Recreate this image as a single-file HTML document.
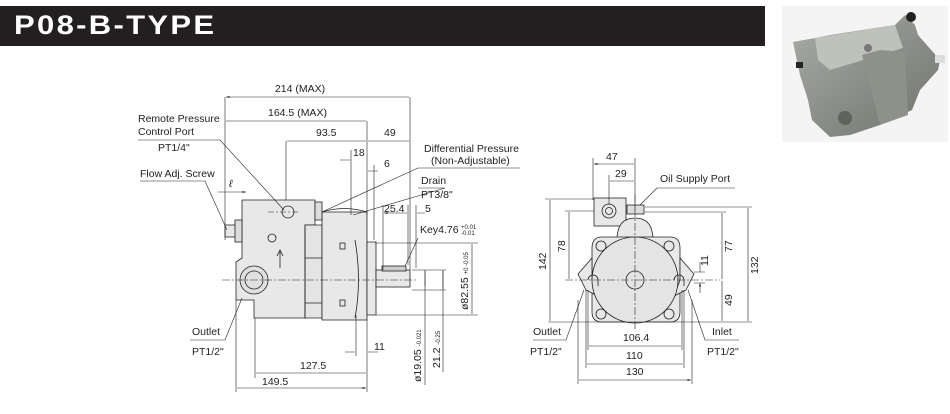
<!DOCTYPE html>
<html><head><meta charset="utf-8"><style>
body{margin:0;width:950px;height:414px;background:#fff;overflow:hidden;position:relative;font-family:"Liberation Sans",sans-serif}
.hdr{position:absolute;left:0;top:6px;width:765px;height:40px;background:#231f20}
.hdr span{position:absolute;left:14px;top:4px;color:#fff;font-weight:bold;font-size:27px;letter-spacing:2px;transform:scaleX(1.15);transform-origin:left}
svg{position:absolute;left:0;top:0}
text{font-family:"Liberation Sans",sans-serif;font-size:10.5px;fill:#222}
</style></head><body>
<div class="hdr"><span>P08-B-TYPE</span></div>
<svg width="950" height="414" viewBox="0 0 950 414">
<defs><marker id="a" viewBox="0 0 10 10" refX="10" refY="5" markerWidth="6" markerHeight="6" orient="auto-start-reverse"><path d="M0,2L10,5L0,8z" fill="#222"/></marker>
<linearGradient id="ph" x1="0" y1="0" x2="1" y2="1"><stop offset="0" stop-color="#a9aca6"/><stop offset="1" stop-color="#6f736c"/></linearGradient></defs>
<rect x="782" y="6" width="166" height="136" fill="#f4f4f4"/>
<path d="M793,42 L815,38 L830,35 L895,25 L905,15 L915,25 L918,35 L940,60 L938,70 L920,90 L912,110 L880,125 L850,135 L830,137 L812,120 L808,100 L800,75 Z" fill="url(#ph)"/>
<path d="M815,38 L895,25 L903,48 L830,70 L818,60 Z" fill="#bfc2bb"/>
<path d="M862,55 L880,50 L905,52 L908,115 L880,125 Z" fill="#8d918a"/>
<circle cx="911" cy="17" r="5" fill="#222"/>
<circle cx="845" cy="118" r="7" fill="#5f635c"/>
<circle cx="868" cy="48" r="4" fill="#777"/>
<rect x="796" y="62" width="7" height="6" fill="#222"/>
<rect x="935" y="55" width="10" height="8" fill="#ddd"/>
<g stroke="#222" stroke-width="0.8" fill="none">
<path d="M242,200 H315 V225 H305 V318 H254 V300 H236 V262 L242,258 Z" fill="#e8e8e8"/>
<path d="M305,225 H322 V318 H305Z" fill="#e4e4e4"/>
<path d="M322,212 H367 V320 H322Z" fill="#e8e8e8"/>
<path d="M322,212 Q344,205 367,212" />
<path d="M367,242 H376 V315 H367Z" fill="#e8e8e8"/>
<rect x="376" y="270" width="34" height="17" fill="#e8e8e8"/>
<rect x="382" y="266" width="24" height="5" fill="#ccc"/>
<path d="M305,228 V318 M305,258 H322 M305,303 H322"/>
<path d="M355,240 Q362,280 355,318"/>
<rect x="225" y="225" width="12" height="12" fill="#e8e8e8"/>
<rect x="235" y="220" width="7" height="22" fill="#ddd"/>
<rect x="315" y="202" width="7" height="18" fill="#ddd"/>
<circle cx="288" cy="212" r="6"/>
<circle cx="272" cy="238" r="4"/>
<circle cx="254" cy="280" r="14" fill="#e0e0e0"/><circle cx="254" cy="280" r="9"/>
<path d="M280,250 V268 M277,256 L280,250 L283,256"/>
<rect x="340" y="243" width="5" height="6"/><rect x="340" y="300" width="5" height="6"/>
</g>
<g stroke="#222" stroke-width="0.6" fill="none">
<path d="M222,280 H418" stroke-dasharray="8 2 2 2"/>
<path d="M268,212 H300" stroke-dasharray="6 2 2 2"/>
<path d="M225,97 V240 M410,97 V270 M367,121 V215 M286,141 V200 M351,150 V215 M374,165 V240 M236,300 V392 M255,318 V378 M367,320 V392 M356,315 V356"/>
<path d="M226,97 H409 M226,121 H366 M287,141 H366 M368,141 H409 M340,160 H350 M378,171 H368 M218,192 H246" marker-end="url(#a)" marker-start="url(#a)"/>
<path d="M383,205 V270 M408,205 V265 M416,205 V268 M375,243 H478 M376,315 H478 M412,270 H446 M412,290 H446 M425,270 V385 M443,270 V372"/>
<path d="M384,213 H407 M425,213 H417 M472,244 V314 M425,271 V286 M443,271 V289 M345,352 H355 M378,352 H368 M256,373 H366 M237,388 H366" marker-end="url(#a)" marker-start="url(#a)"/>
<path d="M138,140 H220 L284,210 M140,181 H205 L227,230 M190,340 H225 L242,298 M418,168 H520 M418,168 L322,212 M418,188 H445 L353,215 M418,238 L405,266"/>
</g>
<g>
<text x="300" y="92" text-anchor="middle">214 (MAX)</text>
<text x="268" y="116">164.5 (MAX)</text>
<text x="316" y="136">93.5</text>
<text x="384" y="136">49</text>
<text x="353" y="156">18</text>
<text x="384" y="167">6</text>
<text x="138" y="122">Remote Pressure</text>
<text x="138" y="135">Control Port</text>
<text x="158" y="151">PT1/4"</text>
<text x="140" y="177">Flow Adj. Screw</text>
<text x="229" y="187" font-style="italic">ℓ</text>
<text x="424" y="152">Differential Pressure</text>
<text x="431" y="164">(Non-Adjustable)</text>
<text x="421" y="184">Drain</text>
<text x="421" y="198">PT3/8"</text>
<text x="384" y="212">25.4</text>
<text x="425" y="212">5</text>
<text x="420" y="233">Key4.76</text><text x="461" y="229" style="font-size:6px">+0.01</text><text x="461" y="235" style="font-size:6px">-0.01</text>
<text x="192" y="335">Outlet</text>
<text x="192" y="355">PT1/2"</text>
<text x="374" y="350">11</text>
<text x="300" y="369">127.5</text>
<text x="262" y="385">149.5</text>
<text transform="translate(468,310) rotate(-90)">ø82.55 <tspan style="font-size:6px">+0 -0.05</tspan></text>
<text transform="translate(421,382) rotate(-90)">ø19.05 <tspan style="font-size:6px">-0.021</tspan></text>
<text transform="translate(440,368) rotate(-90)">21.2 <tspan style="font-size:6px">-0.25</tspan></text>
</g>
<g stroke="#222" stroke-width="0.8" fill="none">
<rect x="594" y="198" width="32" height="28" fill="#e8e8e8"/>
<circle cx="609" cy="211" r="7"/><circle cx="609" cy="211" r="3.5"/>
<rect x="627" y="205" width="17" height="9" fill="#ddd"/>
<path d="M617,240 Q617,218 635,218 Q653,218 653,240" fill="#e8e8e8"/>
<path d="M592,248 Q592,237 602,237 H670 Q680,237 680,248 V312 Q680,322 670,322 H602 Q592,322 592,312 Z" fill="#e8e8e8"/>
<path d="M592,258 L578,274 L586,290 L598,296 L592,280 Z M680,258 L694,274 L686,290 L674,296 L680,280 Z" fill="#e8e8e8"/>
<circle cx="635" cy="280" r="43" fill="#e4e4e4"/>
<circle cx="635" cy="280" r="9"/>
<circle cx="601" cy="246" r="5"/><circle cx="669" cy="246" r="5"/><circle cx="601" cy="314" r="5"/><circle cx="669" cy="314" r="5"/>
<path d="M588,280 a5,5 0 0 1 10,0 v6 M674,280 a5,5 0 0 1 10,0 v6"/>
</g>
<g stroke="#222" stroke-width="0.6" fill="none">
<path d="M565,280 H720 M635,195 V330" stroke-dasharray="8 2 2 2"/>
<path d="M548,322 H752 M545,199 H594 M565,211 H594 M645,207 H752 M645,212 H726 M593,158 V200 M609,175 V205 M635,158 V210 M586,290 V368 M682,290 V350 M588,290 V350 M684,290 V368 M578,300 V384 M692,300 V384 M694,272 H705 M694,283 H705"/>
<path d="M594,164 H634 M610,181 H634 M550,200 V321 M569,212 V279 M722,213 V279 M722,281 V321 M748,208 V321 M589,346 H681 M587,364 H683 M579,380 H691" marker-end="url(#a)" marker-start="url(#a)"/>
<path d="M700,262 V272 M700,293 V283" marker-end="url(#a)"/>
<path d="M657,188 H735 M657,188 L640,205 M533,340 H566 L584,290 M739,340 H705 L688,290"/>
</g>
<g>
<text x="606" y="160">47</text>
<text x="615" y="177">29</text>
<text x="660" y="182">Oil Supply Port</text>
<text transform="translate(546,270) rotate(-90)">142</text>
<text transform="translate(565,252) rotate(-90)">78</text>
<text transform="translate(732,252) rotate(-90)">77</text>
<text transform="translate(732,306) rotate(-90)">49</text>
<text transform="translate(758,274) rotate(-90)">132</text>
<text transform="translate(708,266) rotate(-90)">11</text>
<text x="533" y="335">Outlet</text>
<text x="530" y="355">PT1/2"</text>
<text x="712" y="335">Inlet</text>
<text x="707" y="355">PT1/2"</text>
<text x="623" y="341">106.4</text>
<text x="626" y="359">110</text>
<text x="626" y="375">130</text>
</g>
</svg>
</body></html>
